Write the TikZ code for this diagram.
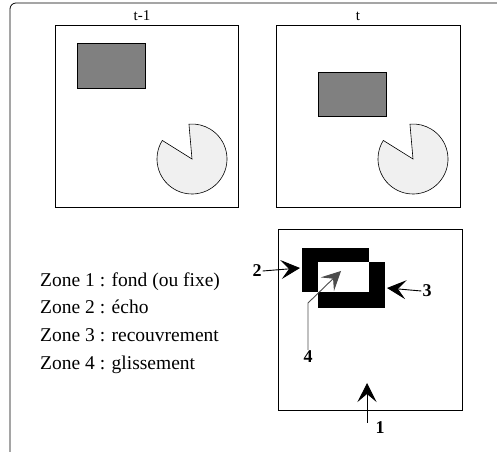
\documentclass[tikz,border=0pt]{standalone}
\usepackage{fontspec}
\setmainfont{Liberation Serif}
\usetikzlibrary{arrows.meta,positioning}

\begin{document}
\begin{tikzpicture}[x=1pt,y=1pt,
	frame/.style={draw,line width=.8pt},
	objet/.style={draw,fill=black!50,line width=.6pt},
	pacman/.style={draw,fill=black!6,line width=.6pt},
	zone/.style={fill=black},
	legende/.style={anchor=west,inner sep=0,font=\fontsize{19.5}{22}\selectfont},
	temps/.style={inner sep=0,font=\fontsize{15}{17}\selectfont},
	num/.style={inner sep=1,font=\fontsize{18}{20}\selectfont\bfseries},
	fleche/.style={-{Stealth[length=19pt,width=19pt,inset=8pt]},line width=.9pt}]
\useasboundingbox (0,0) rectangle (497,454);

% cadre exterieur
\draw[line width=.8pt,rounded corners=6pt] (10,2) -- (10,451) -- (497,451);

% image t-1
\draw[frame] (55,247) rectangle (238,429);
\node[temps] (tm1) at (142,438) {t-1};
\draw[objet] (77,366) rectangle (145,411);
\draw[pacman] (192,295) -- +(148:35) arc[start angle=148,end angle=455,radius=35] -- cycle;

% image t
\draw[frame] (276,247) rectangle (460,429);
\node[temps] (t) at (358,438) {t};
\draw[objet] (318,338) rectangle (386,382);
\draw[pacman] (413,295) -- +(148:35) arc[start angle=148,end angle=455,radius=35] -- cycle;

% zones
\draw[frame] (278,44) rectangle (462,225);
\fill[zone] (302,162) rectangle (369,206);
\fill[zone] (318,146) rectangle (385,192);
\fill[white] (318,162) rectangle (369,192);

\coordinate (z2) at (300,186);
\coordinate (z3) at (387,166);
\coordinate (z4) at (341,183);
\coordinate (z4c) at (308,151);
\coordinate (z1) at (367,71);

\node[num] (n2) at (257,183) {2};
\node[num] (n3) at (427,163) {3};
\node[num] (n4) at (308,97) {4};
\node[num] (n1) at (380,26) {1};

\draw[fleche] (n2.east) -- (z2);
\draw[fleche] (n3.west) -- (z3);
\draw[fleche,black!70] (n4.north) -- (z4c) -- (z4);
\draw[fleche] (367,31) -- (z1);

% legende
\node[legende] (l1) at (40,172) {Zone 1 : fond (ou fixe)};
\node[legende] (l2) at (40,147) {Zone 2 : écho};
\node[legende] (l3) at (40,119) {Zone 3 : recouvrement};
\node[legende] (l4) at (40,89) {Zone 4 : glissement};

\end{tikzpicture}
\end{document}
